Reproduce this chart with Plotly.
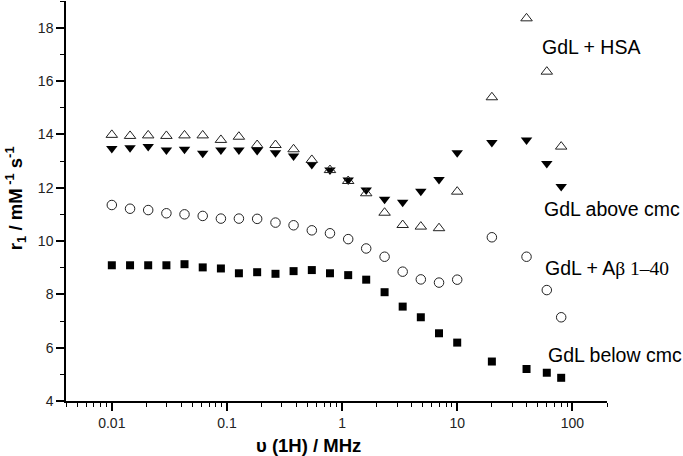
import plotly.graph_objects as go

freq_mhz = [0.01, 0.0144, 0.0207, 0.0298, 0.0428, 0.0616, 0.0886, 0.127, 0.183, 0.264,
            0.379, 0.546, 0.785, 1.13, 1.62, 2.34, 3.36, 4.83, 6.95, 10.0,
            20.0, 40.0, 60.0, 80.0]

gdl_below_cmc = [9.09, 9.09, 9.09, 9.09, 9.13, 9.01, 8.97, 8.79, 8.83, 8.77,
                 8.87, 8.91, 8.79, 8.72, 8.55, 8.08, 7.54, 7.14, 6.54, 6.19,
                 5.48, 5.20, 5.06, 4.87]

gdl_abeta = [11.35, 11.21, 11.16, 11.04, 11.00, 10.94, 10.84, 10.84, 10.83, 10.69,
             10.59, 10.40, 10.29, 10.07, 9.72, 9.41, 8.85, 8.56, 8.44, 8.55,
             10.14, 9.41, 8.16, 7.14]

gdl_hsa = [13.98, 13.94, 13.96, 13.94, 13.96, 13.96, 13.79, 13.91, 13.60, 13.60,
           13.44, 13.04, 12.66, 12.25, 11.79, 11.06, 10.60, 10.54, 10.48, 11.85,
           15.39, 18.35, 16.35, 13.54]

gdl_above_cmc = [13.47, 13.50, 13.54, 13.41, 13.44, 13.29, 13.41, 13.41, 13.39, 13.31,
                 13.19, 12.87, 12.66, 12.29, 11.91, 11.57, 11.45, 11.87, 12.31, 13.31,
                 13.69, 13.79, 12.91, 12.04]

x_tick_vals = [0.01, 0.1, 1, 10, 100]
x_tick_text = ["0.01", "0.1", "1", "10", "100"]

FONT = "Arial, Liberation Sans, sans-serif"

fig = go.Figure()
fig.add_trace(go.Scatter(x=freq_mhz, y=gdl_below_cmc, mode="markers", name="GdL below cmc",
                         marker=dict(symbol="square", size=8, color="black",
                                     line=dict(width=0))))
fig.add_trace(go.Scatter(x=freq_mhz, y=gdl_abeta, mode="markers", name="GdL + Abeta",
                         marker=dict(symbol="circle-open", size=9.5, color="#222",
                                     line=dict(width=1, color="#222"))))
fig.add_trace(go.Scatter(x=freq_mhz, y=gdl_above_cmc, mode="markers", name="GdL above cmc",
                         marker=dict(symbol="triangle-down", size=10, color="black",
                                     line=dict(width=0))))
fig.add_trace(go.Scatter(x=freq_mhz, y=gdl_hsa, mode="markers", name="GdL + HSA",
                         marker=dict(symbol="triangle-up-open", size=10, color="#222",
                                     line=dict(width=1, color="#222"))))

minor_x = []
for dec in [0.001, 0.01, 0.1, 1, 10, 100]:
    for m in range(2, 10):
        v = dec * m
        if 0.004 <= v <= 200:
            minor_x.append(v)

fig.update_xaxes(type="log", range=[-2.39794, 2.30103], automargin=False,
                 tickvals=x_tick_vals, ticktext=x_tick_text,
                 showgrid=False, zeroline=False, showline=True, linecolor="black", linewidth=1.5,
                 ticks="outside", ticklen=8, tickwidth=1.5, tickcolor="black",
                 tickfont=dict(family=FONT, size=14, color="#222"),
                 minor=dict(tickvals=minor_x, ticks="outside", ticklen=4, tickwidth=1.2,
                            tickcolor="black", showgrid=False))
fig.update_yaxes(range=[4, 19], tick0=4, dtick=2, automargin=False,
                 showgrid=False, zeroline=False, showline=True, linecolor="black", linewidth=1.5,
                 ticks="outside", ticklen=8, tickwidth=1.5, tickcolor="black",
                 tickfont=dict(family=FONT, size=14, color="#222"),
                 minor=dict(tick0=4, dtick=1, ticks="outside", ticklen=4, tickwidth=1.2,
                            tickcolor="black", showgrid=False))

ann_font = dict(family=FONT, size=19.5, color="black")
labels = [
    ("GdL + HSA", 0.876, 0.886),
    ("GdL above cmc", 0.879, 0.479),
    ("GdL + A<span style=\"font-family:Liberation Serif\">β 1–40</span>", 0.881, 0.332),
    ("GdL below cmc", 0.887, 0.115),
]
for txt, px, py in labels:
    fig.add_annotation(text=txt, xref="paper", yref="paper", x=px, y=py,
                       xanchor="left", yanchor="middle", showarrow=False, font=ann_font)

fig.add_annotation(text="<b>υ (1H) / MHz</b>", xref="paper", yref="paper", x=0.449, y=-0.11,
                   xanchor="center", yanchor="middle", showarrow=False,
                   font=dict(family=FONT, size=18.5, color="black"))
fig.add_annotation(text="<b>r<sub>1</sub> / mM<sup> -1</sup> s<sup>-1</sup></b>", xref="paper", yref="paper",
                   x=-0.094, y=0.5075, xanchor="center", yanchor="middle", textangle=-90,
                   showarrow=False, font=dict(family=FONT, size=18.5, color="black"))

fig.update_layout(width=683, height=456, margin=dict(l=66, r=76, t=1, b=55),
                  paper_bgcolor="white", plot_bgcolor="white", showlegend=False)

fig.write_html("out.html", config={"displayModeBar": False},
               post_script="document.body.style.margin='0px';")
